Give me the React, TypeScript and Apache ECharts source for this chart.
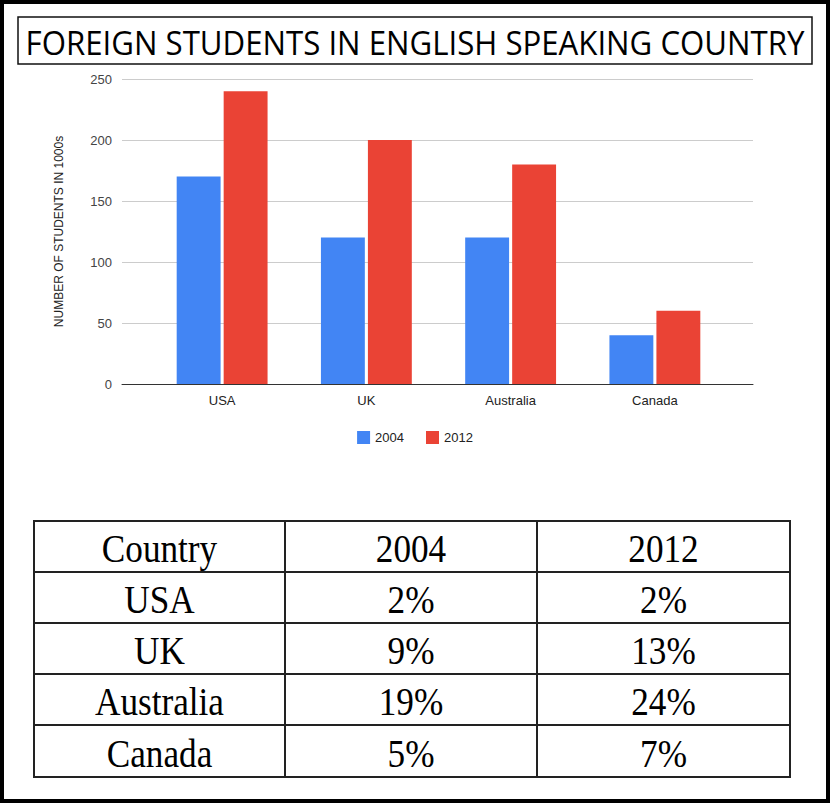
import React, { useEffect, useRef } from 'react';
import * as echarts from 'echarts';

const countries = ['USA', 'UK', 'Australia', 'Canada'];
const students2004 = [170, 120, 120, 40];
const students2012 = [240, 200, 180, 60];
const tableHeader = ['Country', '2004', '2012'];
const share2004 = ['2%', '9%', '19%', '5%'];
const share2012 = ['2%', '13%', '24%', '7%'];

const W = 830;
const H = 803;

function buildTable(): any[] {
  const colX = [34, 285, 537, 790];
  const rowY = [521, 572, 623, 674, 725, 777];
  const els: any[] = [];
  els.push({ type: 'rect', shape: { x: 34, y: 521, width: 756, height: 256 }, style: { fill: '#fff', stroke: '#222', lineWidth: 2 } });
  rowY.slice(1, -1).forEach((y) =>
    els.push({ type: 'line', shape: { x1: 34, y1: y, x2: 790, y2: y }, style: { stroke: '#222', lineWidth: 2 } }),
  );
  colX.slice(1, -1).forEach((x) =>
    els.push({ type: 'line', shape: { x1: x, y1: 521, x2: x, y2: 777 }, style: { stroke: '#222', lineWidth: 2 } }),
  );
  const rows = [tableHeader, ...countries.map((c, i) => [c, share2004[i], share2012[i]])];
  rows.forEach((row, r) =>
    row.forEach((cell, c) =>
      els.push({
        type: 'text',
        x: (colX[c] + colX[c + 1]) / 2,
        y: (rowY[r] + rowY[r + 1]) / 2 + 2,
        scaleX: 0.88,
        style: { text: cell, font: '40px "Liberation Serif"', fill: '#000', align: 'center', verticalAlign: 'middle' },
      }),
    ),
  );
  return els;
}

export default function App() {
  const chartRef = useRef<HTMLDivElement>(null);

  useEffect(() => {
    document.body.style.margin = '0';
    if (!chartRef.current) return;
    const chart = echarts.init(chartRef.current, null, { renderer: 'svg' });
    chart.setOption({
      animation: false,
      backgroundColor: '#fff',
      textStyle: { fontFamily: '"Liberation Sans", Arial, sans-serif' },
      // grid 0: axis frame and gridlines; grid 1: inset bar area
      grid: [
        { left: 122, right: 77, top: 79, bottom: 419 },
        { left: 150, right: 103, top: 79, bottom: 419 },
      ],
      legend: {
        top: 426,
        left: 'center',
        itemWidth: 13,
        itemHeight: 13,
        icon: 'rect',
        itemGap: 22,
        textStyle: { fontSize: 13, color: '#222' },
        data: ['2004', '2012'],
      },
      xAxis: [
        {
          type: 'category',
          gridIndex: 0,
          data: [''],
          axisTick: { show: false },
          axisLabel: { show: false },
          axisLine: { lineStyle: { color: '#333' } },
        },
        {
          type: 'category',
          gridIndex: 1,
          data: countries,
          axisTick: { show: false },
          axisLine: { show: false },
          axisLabel: { fontSize: 13, color: '#222', margin: 10 },
        },
      ],
      yAxis: [
        {
          type: 'value',
          gridIndex: 0,
          min: 0,
          max: 250,
          interval: 50,
          name: 'NUMBER OF STUDENTS IN 1000s',
          nameLocation: 'middle',
          nameGap: 57,
          nameTextStyle: { fontSize: 12, color: '#222' },
          axisLabel: { fontSize: 13, color: '#444', margin: 10 },
          splitLine: { lineStyle: { color: '#ccc' } },
        },
        {
          type: 'value',
          gridIndex: 1,
          min: 0,
          max: 250,
          interval: 50,
          axisLabel: { show: false },
          splitLine: { show: false },
        },
      ],
      series: [
        { name: '2004', type: 'bar', xAxisIndex: 1, yAxisIndex: 1, data: students2004, itemStyle: { color: '#4285F4' }, barGap: '7%', barCategoryGap: '37%' },
        { name: '2012', type: 'bar', xAxisIndex: 1, yAxisIndex: 1, data: students2012, itemStyle: { color: '#EA4335' } },
      ],
      graphic: [
        { type: 'rect', shape: { x: 2, y: 2, width: W - 4, height: H - 4 }, style: { fill: 'none', stroke: '#000', lineWidth: 4 }, z: 100 },
        { type: 'rect', shape: { x: 18, y: 17, width: 794, height: 47 }, style: { fill: '#fff', stroke: '#111', lineWidth: 1.5 } },
        {
          type: 'text',
          x: 415,
          y: 42,
          scaleX: 0.975,
          style: { text: 'FOREIGN STUDENTS IN ENGLISH SPEAKING COUNTRY', font: '32px "Open Sans"', fill: '#000', align: 'center', verticalAlign: 'middle' },
        },
        ...buildTable(),
      ],
    });
    return () => chart.dispose();
  }, []);

  return <div ref={chartRef} style={{ width: W, height: H }} />;
}
